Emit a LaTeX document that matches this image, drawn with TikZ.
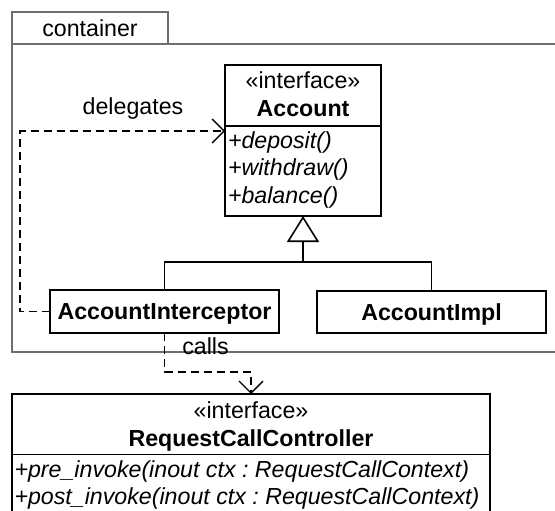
\documentclass[tikz,border=0pt]{standalone}
\usepackage{fontspec}
\setmainfont{Liberation Sans}
\usetikzlibrary{arrows.meta}
\frenchspacing
\newcommand\dfont{\fontsize{23.2}{27}\selectfont}
\definecolor{cgray}{RGB}{110,110,110}
\begin{document}
\begin{tikzpicture}[x=1pt,y=-1pt,
  every node/.style={inner sep=0pt, outer sep=0pt, font=\dfont},
  classbox/.style={draw=black, line width=1.9pt, fill=white},
  boldbox/.style={classbox, font=\dfont\bfseries, text height=16.6pt, text depth=0pt},
  sepline/.style={draw=black, line width=1.9pt},
  txt/.style={anchor=base},
  optxt/.style={anchor=base west, font=\dfont\itshape},
  conn/.style={draw=black, line width=1.3pt},
  dep/.style={conn, dash pattern=on 8pt off 5pt,
    -{Straight Barb[length=12pt,width=24pt,line width=1.3pt]}},
  gen/.style={conn, -{Triangle[open,length=26pt,width=32pt,line width=1.6pt,fill=white]}},
  frame/.style={draw=cgray, line width=1.3pt}
]
\useasboundingbox (0,0) rectangle (555,511);
\clip (0,0) rectangle (555,511);
\fill[white] (0,0) rectangle (555,511);

% container frame
\node[frame, minimum width=156pt, minimum height=32pt, anchor=north west,
      text height=16.6pt, text depth=0pt] (ctab) at (12,12) {container};
\draw[frame] (560,44) -- (ctab.south west) -- (12,352) -- (560,352);

% Account interface
\node[classbox, minimum width=156pt, minimum height=151pt, anchor=north west] (acc) at (225,65) {};
\draw[sepline] (acc.west |- 0,126) -- (acc.east |- 0,126);
\node[txt] (accst) at (303,89) {«interface»};
\node[txt, font=\dfont\bfseries] (accnm) at (303,117) {Account};
\node[optxt] (op1) at (228,148) {+deposit()};
\node[optxt] (op2) at (228,175.5) {+withdraw()};
\node[optxt] (op3) at (228,203) {+balance()};

% implementing classes
\node[boldbox, minimum width=229pt, minimum height=43pt] (aint) at (164.5,311.5) {AccountInterceptor};
\node[boldbox, minimum width=229pt, minimum height=42pt] (aimpl) at (431.5,312) {AccountImpl};

% RequestCallController interface
\node[classbox, minimum width=478pt, minimum height=140pt, anchor=north west] (rcc) at (12,394) {};
\draw[sepline] (rcc.west |- 0,454.5) -- (rcc.east |- 0,454.5);
\node[txt] (rccst) at (251,418) {«interface»};
\node[txt, font=\dfont\bfseries] (rccnm) at (251,446) {RequestCallController};
\node[optxt] (rop1) at (14.5,477) {+pre\_invoke(inout ctx : RequestCallContext)};
\node[optxt] (rop2) at (14.5,504.5) {+post\_invoke(inout ctx : RequestCallContext)};

% generalization
\coordinate (gj) at (303,262);
\draw[conn] (aint.north) |- (gj) -| (aimpl.north);
\draw[gen] (gj) -- (acc.south);

% delegates dependency
\coordinate (d1) at (20,311.5);
\draw[dep] (aint.west) -- (d1) |- ([yshift=9.5pt]acc.west);
\node[txt] (dlab) at (133,115) {delegates};

% calls dependency
\draw[dep] (aint.south) -- ++(0,39) -| (rcc.north);
\node[txt] (clab) at (205.5,354) {calls};
\end{tikzpicture}
\end{document}
